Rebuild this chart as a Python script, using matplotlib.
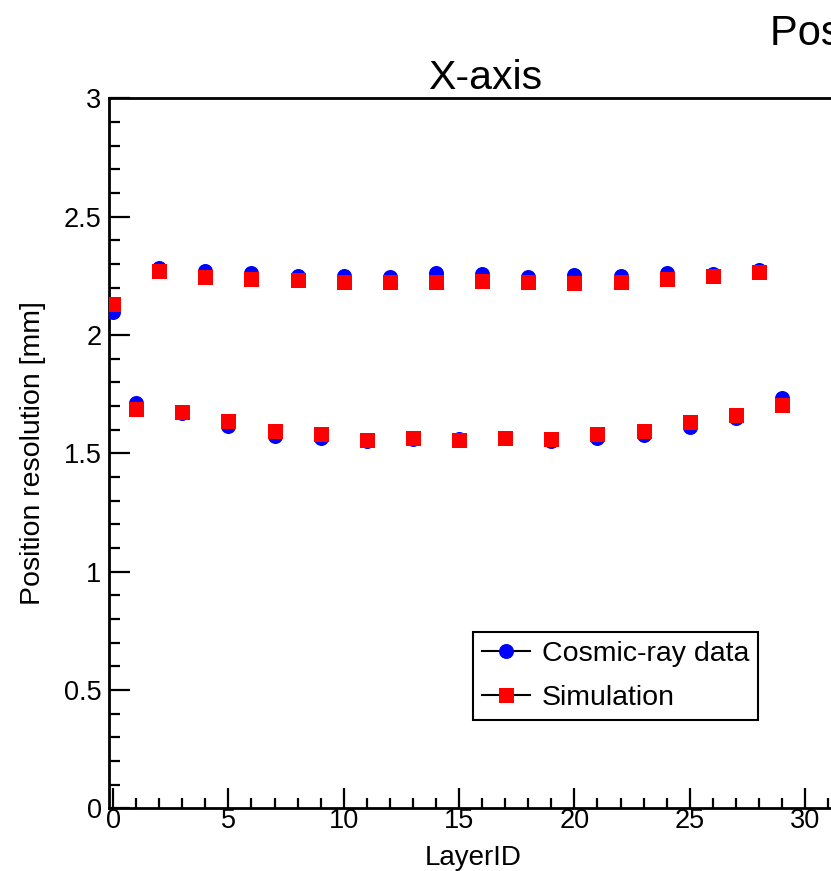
import matplotlib
matplotlib.use("Agg")
import matplotlib.pyplot as plt
from matplotlib.lines import Line2D
from matplotlib.ticker import MultipleLocator

plt.rcParams['font.family'] = ['Liberation Sans', 'DejaVu Sans']

# ---- data ----
layer_id = list(range(30))
cosmic_ray = [2.098, 1.714, 2.282, 1.670, 2.270, 1.616, 2.262, 1.573, 2.251, 1.565,
              2.251, 1.552, 2.245, 1.561, 2.260, 1.562, 2.256, 1.563, 2.246, 1.553,
              2.255, 1.566, 2.251, 1.578, 2.261, 1.613, 2.258, 1.649, 2.275, 1.735]
simulation = [2.130, 1.686, 2.270, 1.676, 2.245, 1.637, 2.237, 1.594, 2.234, 1.583,
              2.223, 1.558, 2.223, 1.564, 2.222, 1.555, 2.227, 1.566, 2.225, 1.561,
              2.220, 1.580, 2.224, 1.593, 2.235, 1.631, 2.248, 1.662, 2.266, 1.704]
series_labels = ["Cosmic-ray data", "Simulation"]
xtick_values = [0, 5, 10, 15, 20, 25, 30]
xtick_labels = ["0", "5", "10", "15", "20", "25", "30"]
ytick_values = [0, 0.5, 1, 1.5, 2, 2.5, 3]
ytick_labels = ["0", "0.5", "1", "1.5", "2", "2.5", "3"]

W, H = 831, 871
fig = plt.figure(figsize=(W / 100, H / 100), dpi=100)

ax_left, ax_right, ax_bottom, ax_top = 108.5, 838.0, 808.4, 98.3
ax = fig.add_axes([ax_left / W, 1 - ax_bottom / H,
                   (ax_right - ax_left) / W, (ax_bottom - ax_top) / H])

ax.plot(layer_id, cosmic_ray, linestyle='none', marker='o', markersize=10.8,
        markerfacecolor='#0000ff', markeredgewidth=0, zorder=3)
ax.plot(layer_id, simulation, linestyle='none', marker='s', markersize=10.8,
        markerfacecolor='#ff0000', markeredgewidth=0, zorder=4)

ax.set_xlim(-0.2, 31.43)
ax.set_ylim(0, 3)

ax.set_xticks(xtick_values)
ax.set_xticklabels(xtick_labels)
ax.set_yticks(ytick_values)
ax.set_yticklabels(ytick_labels)
ax.xaxis.set_minor_locator(MultipleLocator(1))
ax.yaxis.set_minor_locator(MultipleLocator(0.1))

ax.tick_params(axis='both', which='both', direction='in', top=False, right=False,
               width=1.6, color='black', labelsize=19.5)
ax.tick_params(axis='y', which='major', length=15, pad=5)
ax.tick_params(axis='y', which='minor', length=8)
ax.tick_params(axis='x', which='major', length=14.4, pad=0)
ax.tick_params(axis='x', which='minor', length=7.2)

for sp in ax.spines.values():
    sp.set_linewidth(2.0)
    sp.set_color('black')

ax.set_xlabel("LayerID", fontsize=20, va='baseline')
ax.xaxis.set_label_coords(0.5, (ax_bottom - 865) / (ax_bottom - ax_top))
ax.set_ylabel("Position resolution [mm]", fontsize=20.5, va='center')
ax.yaxis.set_label_coords((33 - ax_left) / (ax_right - ax_left), 0.5)

fig.text(485 / W, 1 - 89.3 / H, "X-axis", ha='center', va='baseline', fontsize=29.5)
fig.text(770 / W, 1 - 45 / H, "Position resolution", ha='left', va='baseline',
         fontsize=30)

handles = [
    Line2D([], [], color='black', lw=1.5, marker='o', markersize=10.8,
           markerfacecolor='#0000ff', markeredgewidth=0),
    Line2D([], [], color='black', lw=1.5, marker='s', markersize=10.8,
           markerfacecolor='#ff0000', markeredgewidth=0),
]
leg = ax.legend(handles, series_labels, loc='upper left',
                bbox_to_anchor=(473 / W, 1 - 632 / H), bbox_transform=fig.transFigure,
                borderaxespad=0, fontsize=20.5, frameon=True, fancybox=False,
                framealpha=1, edgecolor='black', handlelength=1.68,
                handletextpad=0.42, labelspacing=0.62, borderpad=0.32)
leg.get_frame().set_linewidth(1.5)

fig.savefig("out.png", dpi=100)
